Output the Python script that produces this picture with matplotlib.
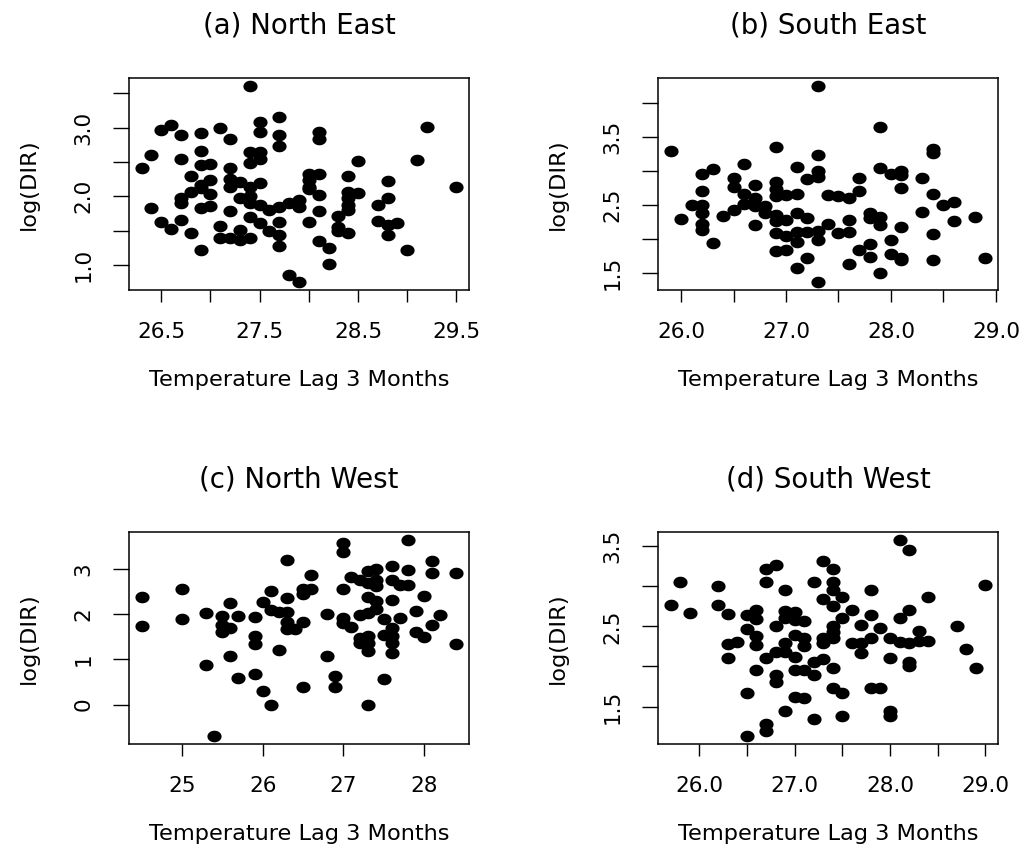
import numpy as np
import matplotlib
matplotlib.use('Agg')
import matplotlib.pyplot as plt
from matplotlib.path import Path
from matplotlib.ticker import FixedLocator, FixedFormatter

# ---------------- data ----------------
ne_temp = [27.4, 27.7, 26.6, 26.5, 26.7, 26.9, 27.1, 27.2, 27.5, 27.5, 27.7, 27.7, 28.1, 28.1, 29.2,
           26.4, 26.3, 26.7, 26.9, 26.9, 27.0, 27.2, 27.4, 27.5, 27.5, 27.4, 28.5, 29.1, 29.5,
           26.8, 26.9, 27.0, 26.8, 26.9, 27.0, 26.7, 26.7, 27.2, 27.2, 27.3, 27.4, 27.5, 27.3,
           27.4, 27.4, 27.5, 27.6, 27.7, 27.8, 27.9, 27.9, 28.0, 28.0, 28.1, 28.0, 28.0, 28.1,
           28.4, 28.4, 28.5, 28.4, 28.4, 28.4, 28.3, 28.8, 28.8, 28.7, 26.4, 26.5, 26.6, 26.7,
           26.8, 26.9, 27.0, 26.9, 27.2, 27.1, 27.1, 27.2, 27.3, 27.3, 27.4, 27.4, 27.5, 27.6,
           27.7, 27.7, 27.7, 27.8, 27.9, 28.0, 28.1, 28.1, 28.2, 28.2, 28.3, 28.3, 28.4, 28.7,
           28.8, 28.9, 28.8, 29.0]
ne_logdir = [3.61, 3.16, 3.04, 2.97, 2.89, 2.93, 3.00, 2.84, 3.08, 2.94, 2.89, 2.73, 2.94, 2.83, 3.01,
             2.60, 2.42, 2.55, 2.66, 2.45, 2.47, 2.41, 2.65, 2.64, 2.54, 2.48, 2.52, 2.53, 2.14,
             2.29, 2.17, 2.24, 2.07, 2.12, 2.04, 1.98, 1.91, 2.26, 2.14, 2.21, 2.14, 2.19, 1.98,
             2.00, 1.90, 1.87, 1.80, 1.85, 1.90, 1.95, 1.85, 2.33, 2.24, 2.32, 2.14, 2.11, 2.02,
             2.30, 2.07, 2.05, 1.97, 1.87, 1.80, 1.72, 2.23, 1.97, 1.87, 1.83, 1.62, 1.52, 1.66,
             1.46, 1.83, 1.86, 1.22, 1.78, 1.57, 1.39, 1.39, 1.51, 1.37, 1.39, 1.70, 1.61, 1.49,
             1.62, 1.44, 1.27, 0.85, 0.75, 1.62, 1.78, 1.35, 1.25, 1.01, 1.56, 1.50, 1.46, 1.64,
             1.58, 1.61, 1.44, 1.22]

se_temp = [27.3, 27.9, 25.9, 26.9, 27.3, 28.4, 28.4, 26.6, 26.3, 26.2, 27.1, 27.3, 27.2, 27.3,
           27.9, 28.0, 28.1, 28.1, 28.3, 27.7, 28.1, 26.5, 26.5, 26.7, 26.2, 26.9, 26.9, 26.9,
           27.0, 27.1, 26.6, 26.7, 26.6, 26.7, 26.8, 26.8, 26.5, 26.4, 26.1, 26.2, 26.2, 26.0,
           26.2, 26.2, 26.3, 26.7, 26.9, 26.9, 27.0, 27.1, 27.2, 27.1, 27.2, 27.3, 27.3, 26.9,
           27.0, 27.1, 26.9, 27.0, 27.2, 27.1, 27.3, 27.4, 27.5, 27.6, 27.7, 27.4, 27.6, 27.5,
           27.6, 27.8, 27.8, 27.9, 27.9, 27.8, 27.7, 27.8, 27.6, 27.9, 28.0, 28.0, 28.1, 28.1,
           28.1, 28.3, 28.4, 28.4, 28.4, 28.5, 28.6, 28.6, 28.8, 28.9]
se_logdir = [4.25, 3.65, 3.30, 3.36, 3.24, 3.33, 3.26, 3.11, 3.03, 2.95, 3.06, 3.00, 2.89, 2.91,
             3.04, 2.96, 3.00, 2.94, 2.90, 2.90, 2.75, 2.90, 2.76, 2.79, 2.70, 2.84, 2.74, 2.63,
             2.65, 2.66, 2.66, 2.61, 2.52, 2.49, 2.48, 2.39, 2.43, 2.34, 2.50, 2.50, 2.38, 2.29,
             2.22, 2.13, 1.95, 2.21, 2.35, 2.26, 2.28, 2.38, 2.31, 2.10, 2.10, 2.12, 1.99, 2.09,
             2.04, 1.96, 1.82, 1.84, 1.73, 1.58, 1.37, 2.65, 2.63, 2.61, 2.70, 2.23, 2.28, 2.09,
             2.11, 2.39, 2.31, 2.33, 2.21, 1.93, 1.84, 1.74, 1.64, 1.51, 1.99, 1.79, 1.73, 1.70,
             2.18, 2.40, 2.66, 2.07, 1.70, 2.50, 2.55, 2.27, 2.33, 1.72]

nw_temp = [24.5, 24.5, 25.0, 25.0, 25.3, 25.3, 25.4, 25.5, 25.5, 25.5, 25.6, 25.6, 25.6, 25.7,
           25.7, 25.9, 25.9, 25.9, 25.9, 26.0, 26.0, 26.1, 26.1, 26.1, 26.2, 26.2, 26.3, 26.3,
           26.3, 26.3, 26.3, 26.4, 26.5, 26.5, 26.6, 26.6, 26.5, 26.5, 26.8, 26.8, 26.9, 26.9,
           27.0, 27.0, 27.0, 27.0, 27.0, 27.1, 27.1, 27.2, 27.2, 27.2, 27.2, 27.3, 27.3, 27.3,
           27.3, 27.3, 27.3, 27.3, 27.3, 27.4, 27.4, 27.4, 27.4, 27.4, 27.5, 27.5, 27.5, 27.6,
           27.6, 27.6, 27.6, 27.6, 27.6, 27.6, 27.7, 27.7, 27.8, 27.8, 27.8, 27.9, 27.9, 28.0,
           28.0, 28.1, 28.1, 28.1, 28.2, 28.4, 28.4]
nw_logdir = [2.38, 1.73, 2.55, 1.90, 2.04, 0.87, -0.70, 1.96, 1.76, 1.60, 2.24, 1.69, 1.07, 1.96,
             0.59, 1.93, 1.51, 1.34, 0.68, 2.28, 0.29, 2.51, 2.10, 0.00, 2.06, 1.21, 3.20, 2.36,
             2.06, 1.84, 1.67, 1.67, 2.46, 2.55, 2.87, 2.57, 1.84, 0.40, 2.00, 1.08, 0.63, 0.39,
             3.58, 3.38, 2.57, 1.91, 1.80, 2.83, 1.71, 2.76, 1.99, 1.47, 1.36, 2.96, 2.70, 2.39,
             2.02, 1.51, 1.36, 1.18, 0.00, 3.00, 2.76, 2.63, 2.30, 2.11, 1.89, 1.54, 0.57, 3.07,
             2.77, 2.32, 1.69, 1.51, 1.36, 1.14, 2.65, 1.91, 3.65, 2.98, 2.65, 2.07, 1.60, 2.41,
             1.49, 3.18, 2.92, 1.76, 1.99, 2.92, 1.35]

sw_temp = [25.7, 25.8, 25.9, 26.2, 26.2, 26.3, 26.3, 26.4, 26.3, 26.5, 26.5, 26.5, 26.5, 26.6,
           26.6, 26.6, 26.6, 26.6, 26.7, 26.7, 26.7, 26.7, 26.7, 26.8, 26.8, 26.8, 26.8, 26.8,
           26.9, 26.9, 26.9, 26.9, 26.9, 26.9, 27.0, 27.0, 27.0, 27.0, 27.0, 27.0, 27.1, 27.1,
           27.1, 27.1, 27.1, 27.2, 27.2, 27.2, 27.2, 27.3, 27.3, 27.3, 27.3, 27.3, 27.4, 27.4,
           27.4, 27.4, 27.4, 27.4, 27.4, 27.4, 27.4, 27.5, 27.5, 27.5, 27.5, 27.6, 27.6, 27.7,
           27.7, 27.7, 27.8, 27.8, 27.8, 27.8, 27.9, 27.9, 28.0, 28.0, 28.0, 28.0, 28.1, 28.1,
           28.1, 28.2, 28.2, 28.2, 28.2, 28.2, 28.3, 28.3, 28.4, 28.4, 28.7, 28.8, 28.9, 29.0]
sw_logdir = [2.77, 3.05, 2.67, 3.01, 2.77, 2.65, 2.28, 2.30, 2.11, 2.64, 2.47, 1.67, 1.13, 2.70,
             2.59, 2.38, 2.27, 1.96, 3.22, 3.05, 2.11, 1.28, 1.20, 3.27, 2.51, 2.18, 1.89, 1.81,
             2.95, 2.69, 2.60, 2.29, 2.18, 1.45, 2.68, 2.58, 2.39, 2.12, 1.96, 1.62, 2.57, 2.35,
             2.25, 1.96, 1.61, 3.06, 2.06, 1.89, 1.35, 3.31, 2.84, 2.35, 2.29, 2.09, 3.21, 3.05,
             2.95, 2.75, 2.51, 2.43, 2.36, 1.98, 1.73, 2.87, 2.61, 1.67, 1.38, 2.71, 2.29, 2.52,
             2.29, 2.17, 2.96, 2.64, 2.36, 1.73, 2.48, 1.73, 2.36, 2.11, 1.45, 1.38, 3.58, 2.60,
             2.31, 3.45, 2.70, 2.29, 2.05, 2.01, 2.44, 2.32, 2.87, 2.32, 2.51, 2.22, 1.98, 3.02]

titles = ["(a) North East", "(b) South East", "(c) North West", "(d) South West"]
xlabel_text = "Temperature Lag 3 Months"
ylabel_text = "log(DIR)"

ne_xticks = [26.5, 27.0, 27.5, 28.0, 28.5, 29.0, 29.5]
ne_xticklabels = ["26.5", "", "27.5", "", "28.5", "", "29.5"]
ne_yticks = [1.0, 1.5, 2.0, 2.5, 3.0, 3.5]
ne_yticklabels = ["1.0", "", "2.0", "", "3.0", ""]

se_xticks = [26.0, 26.5, 27.0, 27.5, 28.0, 28.5, 29.0]
se_xticklabels = ["26.0", "", "27.0", "", "28.0", "", "29.0"]
se_yticks = [1.5, 2.0, 2.5, 3.0, 3.5, 4.0]
se_yticklabels = ["1.5", "", "2.5", "", "3.5", ""]

nw_xticks = [25, 26, 27, 28]
nw_xticklabels = ["25", "26", "27", "28"]
nw_yticks = [0, 1, 2, 3]
nw_yticklabels = ["0", "1", "2", "3"]

sw_xticks = [26.0, 26.5, 27.0, 27.5, 28.0, 28.5, 29.0]
sw_xticklabels = ["26.0", "", "27.0", "", "28.0", "", "29.0"]
sw_yticks = [1.5, 2.0, 2.5, 3.0, 3.5]
sw_yticklabels = ["1.5", "", "2.5", "", "3.5"]

# ---------------- figure ----------------
W, H = 1027, 851
fig = plt.figure(figsize=(W / 100, H / 100), dpi=100)
plt.rcParams['font.family'] = ['DejaVu Sans']

theta = np.linspace(0, 2 * np.pi, 64)
ell = Path(np.column_stack([np.cos(theta), 0.82 * np.sin(theta)]), closed=True)

def px_rect(l, t, r, b):
    return [l / W, (H - b) / H, (r - l) / W, (b - t) / H]

panels = [
    (px_rect(129, 78, 469, 290), ne_temp, ne_logdir, ne_xticks, ne_xticklabels, ne_yticks, ne_yticklabels),
    (px_rect(658, 78, 998, 290), se_temp, se_logdir, se_xticks, se_xticklabels, se_yticks, se_yticklabels),
    (px_rect(129, 532, 469, 744), nw_temp, nw_logdir, nw_xticks, nw_xticklabels, nw_yticks, nw_yticklabels),
    (px_rect(658, 532, 998, 744), sw_temp, sw_logdir, sw_xticks, sw_xticklabels, sw_yticks, sw_yticklabels),
]

fs_tick = 15.5
fs_lab = 16.2
for (rect, xs, ys, xt, xtl, yt, ytl), title in zip(panels, titles):
    ax = fig.add_axes(rect)
    ax.plot(xs, ys, linestyle='none', marker=ell, ms=10.2, color='black', mew=0)
    xmin, xmax = min(xs), max(xs)
    ymin, ymax = min(ys), max(ys)
    dx, dy = 0.04 * (xmax - xmin), 0.04 * (ymax - ymin)
    ax.set_xlim(xmin - dx, xmax + dx)
    ax.set_ylim(ymin - dy, ymax + dy)
    ax.xaxis.set_major_locator(FixedLocator(xt))
    ax.xaxis.set_major_formatter(FixedFormatter(xtl))
    ax.yaxis.set_major_locator(FixedLocator(yt))
    ax.yaxis.set_major_formatter(FixedFormatter(ytl))
    ax.tick_params(axis='x', length=8.9, width=1.0, pad=14.2, labelsize=fs_tick, direction='out')
    ax.tick_params(axis='y', length=11.2, width=1.0, pad=14.2, labelsize=fs_tick, direction='out')
    for lab in ax.get_yticklabels():
        lab.set_rotation(90)
        lab.set_va('center')
    for sp in ax.spines.values():
        sp.set_linewidth(1.1)
    ax.set_xlabel(xlabel_text, fontsize=fs_lab, labelpad=20)
    ax.set_ylabel(ylabel_text, fontsize=fs_lab, labelpad=25)
    ax.set_title(title, fontsize=19.9, pad=31.7)

fig.savefig('out.png', dpi=100)
